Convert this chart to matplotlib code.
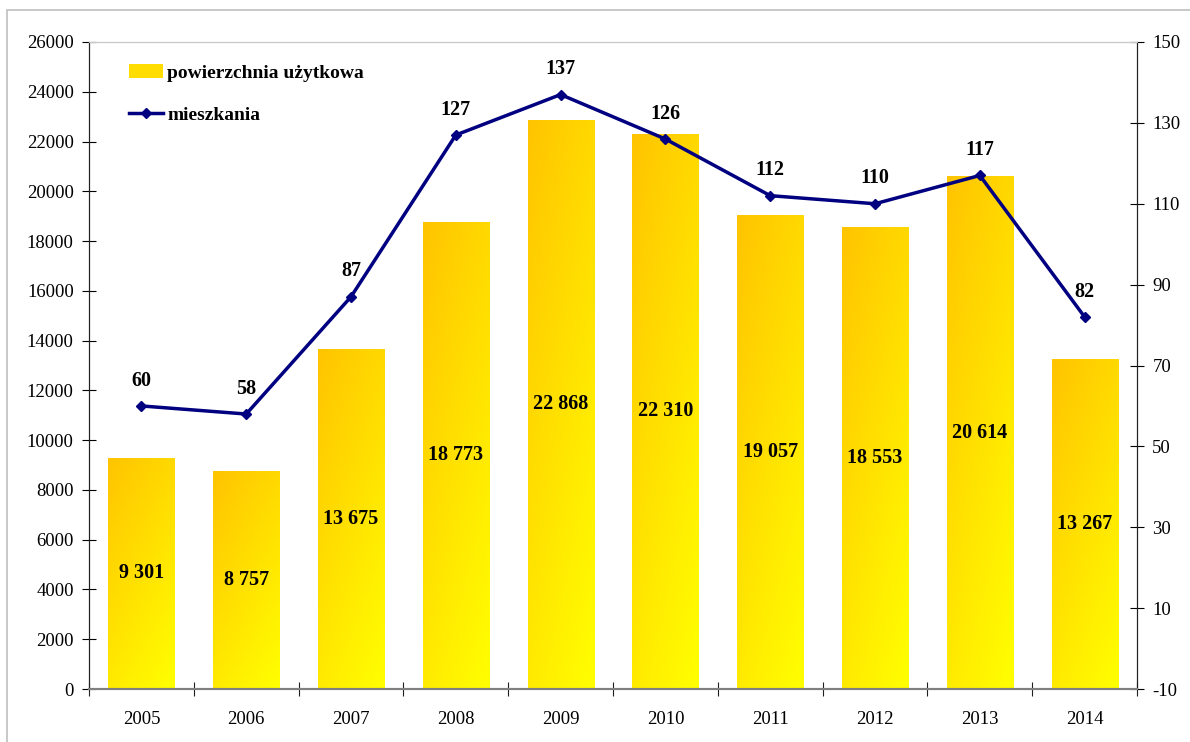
import matplotlib.pyplot as plt
import matplotlib.patches as mpatches
from matplotlib.colors import LinearSegmentedColormap
from matplotlib.lines import Line2D
import numpy as np

years = ['2005', '2006', '2007', '2008', '2009', '2010', '2011', '2012', '2013', '2014']
area = [9301, 8757, 13675, 18773, 22868, 22310, 19057, 18553, 20614, 13267]
flats = [60, 58, 87, 127, 137, 126, 112, 110, 117, 82]

plt.rcParams['font.family'] = ['Liberation Serif', 'DejaVu Serif']
plt.rcParams['axes.unicode_minus'] = False

fig = plt.figure(figsize=(11.9, 7.42), dpi=100)
ax1 = fig.add_axes([0.0748, 0.0714, 0.8807, 0.872])
ax2 = ax1.twinx()

x = np.arange(len(years))
bars = ax1.bar(x, area, width=0.63, color='none', edgecolor='none', zorder=2)

# gradient fill: orange-ish top left -> yellow bottom right
cmap = LinearSegmentedColormap.from_list('gy', ['#FFC400', '#FFFF00'])
gx, gy = np.meshgrid(np.linspace(0, 1, 50), np.linspace(0, 1, 200))
grad = 0.35 * gx + 0.65 * gy
for rect in bars:
    x0 = rect.get_x()
    w = rect.get_width()
    h = rect.get_height()
    im = ax1.imshow(grad, extent=(x0, x0 + w, 0, h), origin='upper', aspect='auto',
                    cmap=cmap, vmin=0, vmax=1, zorder=2)
    im.set_clip_path(rect)

for xi, v in zip(x, area):
    ax1.text(xi, v / 2, f'{v:,}'.replace(',', ' '), ha='center', va='center',
             fontsize=14.5, fontweight='bold', zorder=3)

ax1.set_xlim(-0.5, len(years) - 0.5)
ax1.set_ylim(0, 26000)
ax1.set_yticks(np.arange(0, 26001, 2000))
ax1.set_xticks(np.arange(-0.5, len(years), 1.0))
ax1.set_xticklabels([])
ax1.set_xticks(x, minor=True)
ax1.set_xticklabels(years, minor=True)
ax1.tick_params(axis='x', which='major', direction='inout', length=10, color='#202020')
ax1.tick_params(axis='x', which='minor', length=0, labelsize=13.5, pad=16)
ax1.tick_params(axis='y', direction='inout', length=10, labelsize=13.5, pad=6)

ax2.plot(x, flats, color='#000080', lw=2.5, marker='D', markersize=5.5, zorder=4)
for xi, v in zip(x, flats):
    ax2.annotate(str(v), (xi, v), xytext=(0, 11), textcoords='offset points',
                 ha='center', va='bottom', fontsize=14.5, fontweight='bold')
ax2.set_ylim(-10, 150)
ax2.set_yticks(np.arange(-10, 151, 20))
ax2.tick_params(axis='y', direction='inout', length=10, labelsize=13.5, pad=6)

for a in (ax1, ax2):
    a.spines['top'].set_color('#C8C8C8')
    a.spines['bottom'].set_color('#808080')
    a.spines['bottom'].set_linewidth(1.5)
    a.spines['left'].set_color('#202020')
    a.spines['right'].set_color('#202020')

handles = [mpatches.Patch(facecolor='#FFDD00', edgecolor='none'),
           Line2D([0], [0], color='#000080', lw=2.5, marker='D', markersize=5.5)]
ax2.legend(handles, ['powierzchnia użytkowa', 'mieszkania'], loc='upper left',
           bbox_to_anchor=(0.021, 0.993), frameon=False,
           prop={'size': 14, 'weight': 'bold'}, handlelength=1.75,
           handletextpad=0.25, labelspacing=1.25)

fig.patches.append(mpatches.Rectangle((7 / 1190, -0.01), 1.0, (742 - 10) / 742 + 0.01,
                                      transform=fig.transFigure, fill=False,
                                      edgecolor='#BFBFBF', lw=1.2))

fig.savefig('out.png', dpi=100)
